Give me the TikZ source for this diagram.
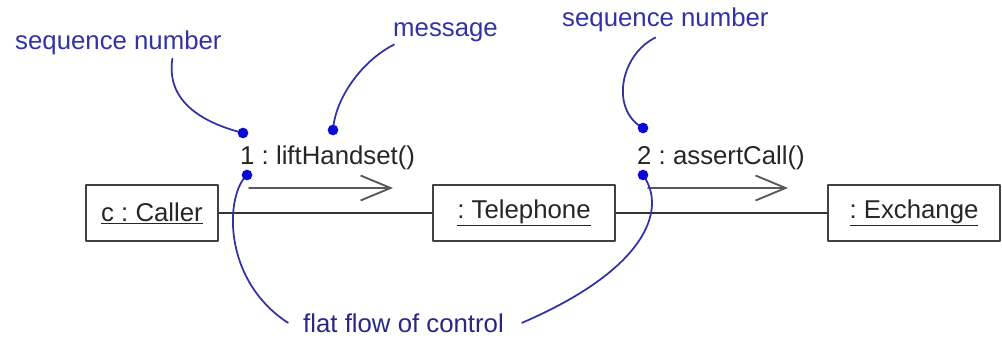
\documentclass[tikz,border=0pt]{standalone}
\usepackage{fontspec}
\setmainfont{Liberation Sans}
\frenchspacing
\usetikzlibrary{arrows.meta,calc}
\definecolor{noteblue}{RGB}{50,50,165}
\definecolor{dotblue}{RGB}{10,10,215}
\definecolor{boxgray}{RGB}{65,65,65}
\tikzset{
  objbox/.style={draw=boxgray,line width=2.4pt,minimum height=1.68cm,inner sep=0pt,text=black!85},
  link/.style={draw=black!80,line width=1.5pt},
  msgarrow/.style={draw=black!65,line width=1.4pt,-{Straight Barb[length=0.9cm,width=0.75cm,line width=1.6pt]}},
  msglabel/.style={anchor=base west,inner sep=0pt,text=black!85},
  note/.style={text=noteblue,inner sep=0pt,anchor=base west},
  noteline/.style={draw=noteblue,line width=1.5pt},
  notedot/.style={fill=dotblue},
}
\begin{document}
\begin{tikzpicture}[x=0.03cm,y=-0.03cm,line cap=round,line join=round,
    every node/.style={font=\fontsize{22}{26}\selectfont}]
    \useasboundingbox (0,0) rectangle (1002,338);
    % objects and links
    \node[objbox,minimum width=3.96cm] (caller) at (152,213) {\underline{c : Caller}};
    \node[objbox,minimum width=5.46cm] (phone) at (524,213) {\underline{: Telephone}};
    \node[objbox,minimum width=5.16cm] (exchange) at (914,213) {\underline{: Exchange}};
    \draw[link] (caller) -- (phone);
    \draw[link] (phone) -- (exchange);
    % messages
    \node[msglabel] (liftmsg) at (240,164) {1 : liftHandset()};
    \node[msglabel] (assertmsg) at (637,164) {2 : assertCall()};
    \coordinate (liftstart) at (249,188);
    \coordinate (liftend) at (393,188);
    \coordinate (assertstart) at (648,188);
    \coordinate (assertend) at (788,188);
    \draw[msgarrow] (liftstart) -- (liftend);
    \draw[msgarrow] (assertstart) -- (assertend);
    % notes
    \coordinate (seqdotA) at (243,133);
    \coordinate (msgdot) at (333,130);
    \coordinate (seqdotB) at (643,128);
    \coordinate (flowdotA) at (247,175);
    \coordinate (flowdotB) at (643,175);
    \node[note] (seqnoteA) at (15,50) {sequence number};
    \node[note] (msgnote) at (393,37) {message};
    \node[note] (seqnoteB) at (562,27) {sequence number};
    \node[note,text=noteblue!80!black] (flownote) at (303,332) {flat flow of control};
    \draw[noteline] ($(seqnoteA.south)+(54,3)$) .. controls (166,100) and (200,122) .. (seqdotA);
    \draw[noteline] ($(msgnote.south west)+(1,2)$) .. controls (360,62) and (335,100) .. (msgdot);
    \draw[noteline] ($(seqnoteB.south)+(-10,5)$) .. controls (620,55) and (610,110) .. (seqdotB);
    \draw[noteline] (flowdotA) .. controls (225,195) and (222,280) .. ($(flownote.west)+(-15,0)$);
    \draw[noteline] (flowdotB) .. controls (668,210) and (645,270) .. ($(flownote.east)+(18,0)$);
    \foreach \d in {seqdotA,msgdot,seqdotB,flowdotA,flowdotB}
      \fill[notedot] (\d) circle[radius=0.16cm];
  \end{tikzpicture}
\end{document}
